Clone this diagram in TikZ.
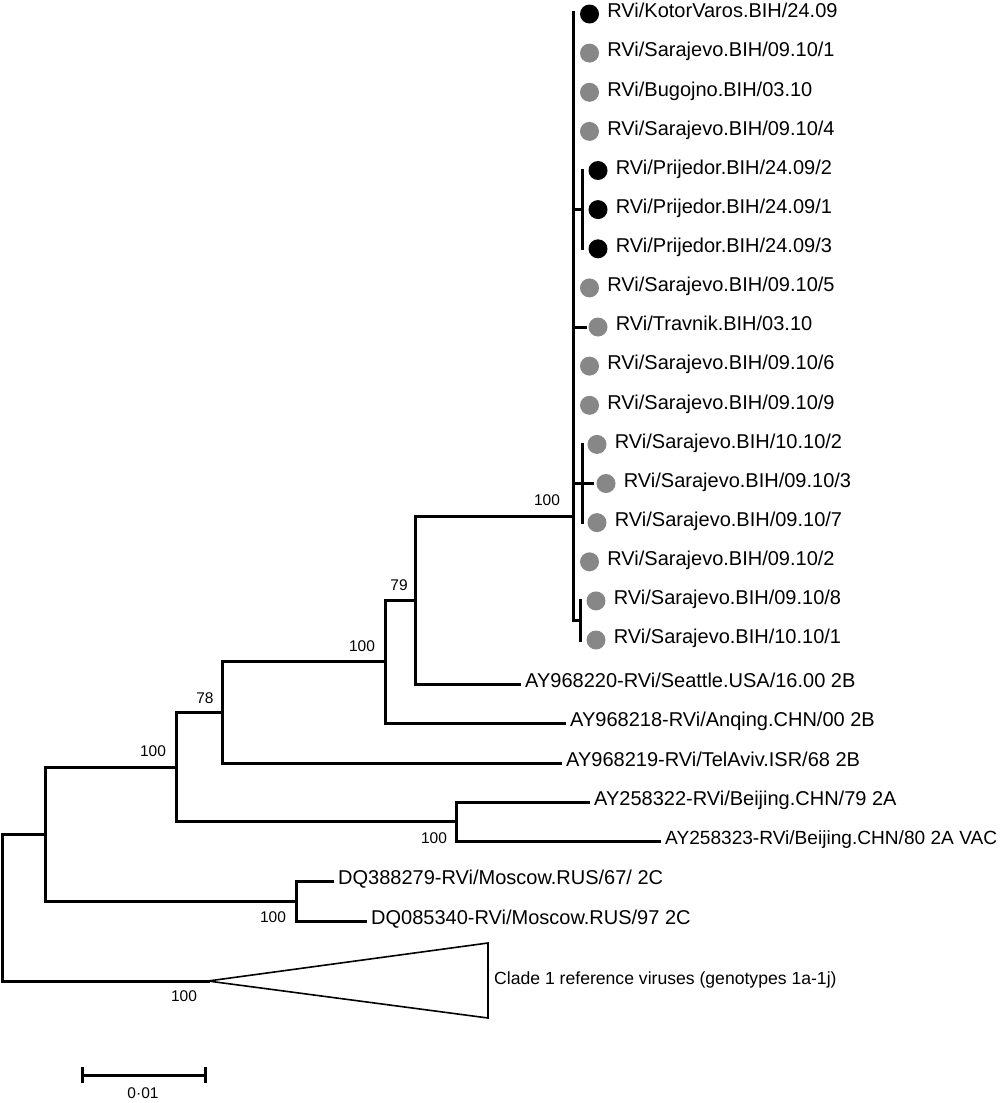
\documentclass[tikz,border=0pt]{standalone}
\usepackage{fontspec}
\setmainfont{Liberation Sans}
\begin{document}
\begin{tikzpicture}[x=1pt,y=-1pt,
  br/.style={line width=3pt, line cap=rect, line join=miter},
  dotg/.style={circle, inner sep=0pt, minimum size=19pt, fill=black!47},
  dotb/.style={circle, inner sep=0pt, minimum size=19pt, fill=black},
  tip/.style={anchor=west, inner sep=0pt, font=\fontsize{20}{24}\selectfont, text height=0.75em, text depth=0pt},
  lf/.style={anchor=west, inner xsep=6pt, inner ysep=0pt, font=\fontsize{20}{24}\selectfont, text height=0.75em, text depth=0pt},
  bs/.style={inner sep=0pt, font=\fontsize{15.5}{18}\selectfont, text height=0.72em, text depth=0pt}]
\useasboundingbox (0,0) rectangle (1003,1103);

% ---- top clade tips ----
\node[dotb] (d1)  at (589.5,14)    {};
\node[dotg] (d2)  at (589.5,53.1)  {};
\node[dotg] (d3)  at (589.5,92.3)  {};
\node[dotg] (d4)  at (589.5,131.4) {};
\node[dotb] (d5)  at (598,170.5)   {};
\node[dotb] (d6)  at (598,209.6)   {};
\node[dotb] (d7)  at (598,248.8)   {};
\node[dotg] (d8)  at (589.5,287.9) {};
\node[dotg] (d9)  at (598,327)     {};
\node[dotg] (d10) at (589.5,366.1) {};
\node[dotg] (d11) at (589.5,405.3) {};
\node[dotg] (d12) at (597,444.4)   {};
\node[dotg] (d13) at (606,483.5)   {};
\node[dotg] (d14) at (597,522.6)   {};
\node[dotg] (d15) at (589.5,561.8) {};
\node[dotg] (d16) at (596,600.9)   {};
\node[dotg] (d17) at (596,640)     {};

\node[tip] (t1)  at ([xshift=8pt]d1.east)  {RVi/KotorVaros.BIH/24.09};
\node[tip] (t2)  at ([xshift=8pt]d2.east)  {RVi/Sarajevo.BIH/09.10/1};
\node[tip] (t3)  at ([xshift=8pt]d3.east)  {RVi/Bugojno.BIH/03.10};
\node[tip] (t4)  at ([xshift=8pt]d4.east)  {RVi/Sarajevo.BIH/09.10/4};
\node[tip] (t5)  at ([xshift=8pt]d5.east)  {RVi/Prijedor.BIH/24.09/2};
\node[tip] (t6)  at ([xshift=8pt]d6.east)  {RVi/Prijedor.BIH/24.09/1};
\node[tip] (t7)  at ([xshift=8pt]d7.east)  {RVi/Prijedor.BIH/24.09/3};
\node[tip] (t8)  at ([xshift=8pt]d8.east)  {RVi/Sarajevo.BIH/09.10/5};
\node[tip] (t9)  at ([xshift=8pt]d9.east)  {RVi/Travnik.BIH/03.10};
\node[tip] (t10) at ([xshift=8pt]d10.east) {RVi/Sarajevo.BIH/09.10/6};
\node[tip] (t11) at ([xshift=8pt]d11.east) {RVi/Sarajevo.BIH/09.10/9};
\node[tip] (t12) at ([xshift=8pt]d12.east) {RVi/Sarajevo.BIH/10.10/2};
\node[tip] (t13) at ([xshift=8pt]d13.east) {RVi/Sarajevo.BIH/09.10/3};
\node[tip] (t14) at ([xshift=8pt]d14.east) {RVi/Sarajevo.BIH/09.10/7};
\node[tip] (t15) at ([xshift=8pt]d15.east) {RVi/Sarajevo.BIH/09.10/2};
\node[tip] (t16) at ([xshift=8pt]d16.east) {RVi/Sarajevo.BIH/09.10/8};
\node[tip] (t17) at ([xshift=8pt]d17.east) {RVi/Sarajevo.BIH/10.10/1};

% ---- other tips ----
\node[lf] (t18) at (519,684) {AY968220-RVi/Seattle.USA/16.00 2B};
\node[lf] (t19) at (564,723) {AY968218-RVi/Anqing.CHN/00 2B};
\node[lf] (t20) at (560,763) {AY968219-RVi/TelAviv.ISR/68 2B};
\node[lf] (t21) at (588,802) {AY258322-RVi/Beijing.CHN/79 2A};
\node[lf, font=\fontsize{19.1}{23}\selectfont] (t22) at (659,841) {AY258323-RVi/Beijing.CHN/80 2A VAC};
\node[lf] (t23) at (332,881) {DQ388279-RVi/Moscow.RUS/67/ 2C};
\node[lf] (t24) at (365,921) {DQ085340-RVi/Moscow.RUS/97 2C};

% ---- internal nodes ----
\coordinate (cAtop) at (573,12);
\coordinate (cAbot) at (573,620.5);
\coordinate (cA)    at (573,516);
\coordinate (pTop)  at (582,170.5);
\coordinate (pBot)  at (582,248.8);
\coordinate (pN)    at (582,209.6);
\coordinate (sTop)  at (582,444.4);
\coordinate (sBot)  at (582,522.6);
\coordinate (sN)    at (582,483.5);
\coordinate (uTop)  at (580,600.9);
\coordinate (uBot)  at (580,640);
\coordinate (uN)    at (580,620.5);
\coordinate (n79)   at (415,600);
\coordinate (n100b) at (385,661.5);
\coordinate (n78)   at (222,712);
\coordinate (n2A)   at (456,821.5);
\coordinate (n100c) at (176,767);
\coordinate (n2C)   at (296,901);
\coordinate (n45)   at (45,834);
\coordinate (root)  at (2,907);
\coordinate (apex)  at (208,981);
\coordinate (triT)  at (488,943);
\coordinate (triB)  at (488,1018);

% ---- top clade branches ----
\draw[br] (cAtop) -- (cAbot);
\draw[br] (pTop) -- (pBot);
\draw[br] (cAtop |- pN) -- (pN);
\draw[br, shorten >=3pt] (cAtop |- d9) -- (d9);
\draw[br] (sTop) -- (sBot);
\draw[br] (cAtop |- sN) -- (sN);
\draw[br, shorten >=4pt] (sN) -- (d13);
\draw[br] (uTop) -- (uBot);
\draw[br] (cAbot) -- (uN);

% ---- backbone ----
\draw[br] (n79) |- (cA);
\draw[br] (n79) |- (t18);
\draw[br] (n100b) |- (n79);
\draw[br] (n100b) |- (t19);
\draw[br] (n78) |- (n100b);
\draw[br] (n78) |- (t20);
\draw[br] (n100c) |- (n78);
\draw[br] (n100c) |- (n2A);
\draw[br] (n2A) |- (t21);
\draw[br] (n2A) |- (t22);
\draw[br] (n45) |- (n100c);
\draw[br] (n45) |- (n2C);
\draw[br] (n2C) |- (t23);
\draw[br] (n2C) |- (t24);
\draw[br] (root) |- (n45);
\draw[br] (root) |- (apex);

% ---- collapsed clade ----
\draw[line width=1.6pt, line join=miter] (apex) -- (triT) -- (triB) -- cycle;
\node[anchor=west, inner sep=0pt, font=\fontsize{17.6}{21}\selectfont, text height=0.75em, text depth=0pt] (cl) at (494,981) {Clade 1 reference viruses (genotypes 1a-1j)};

% ---- bootstrap values ----
\node[bs] (b1) at (547,502) {100};
\node[bs] (b2) at (399,587) {79};
\node[bs] (b3) at (362,648) {100};
\node[bs] (b4) at (205,700) {78};
\node[bs] (b5) at (153,753) {100};
\node[bs] (b6) at (434,840) {100};
\node[bs] (b7) at (273,919) {100};
\node[bs] (b8) at (184,998) {100};

% ---- scale bar ----
\coordinate (sbL) at (82,1075);
\coordinate (sbR) at (205,1075);
\draw[line width=3pt] (sbL) -- (sbR);
\draw[line width=3pt] ([yshift=-8pt]sbL) -- ([yshift=8pt]sbL);
\draw[line width=3pt] ([yshift=-8pt]sbR) -- ([yshift=8pt]sbR);
\node[bs] (sbt) at (143,1095) {0·01};
\end{tikzpicture}
\end{document}
